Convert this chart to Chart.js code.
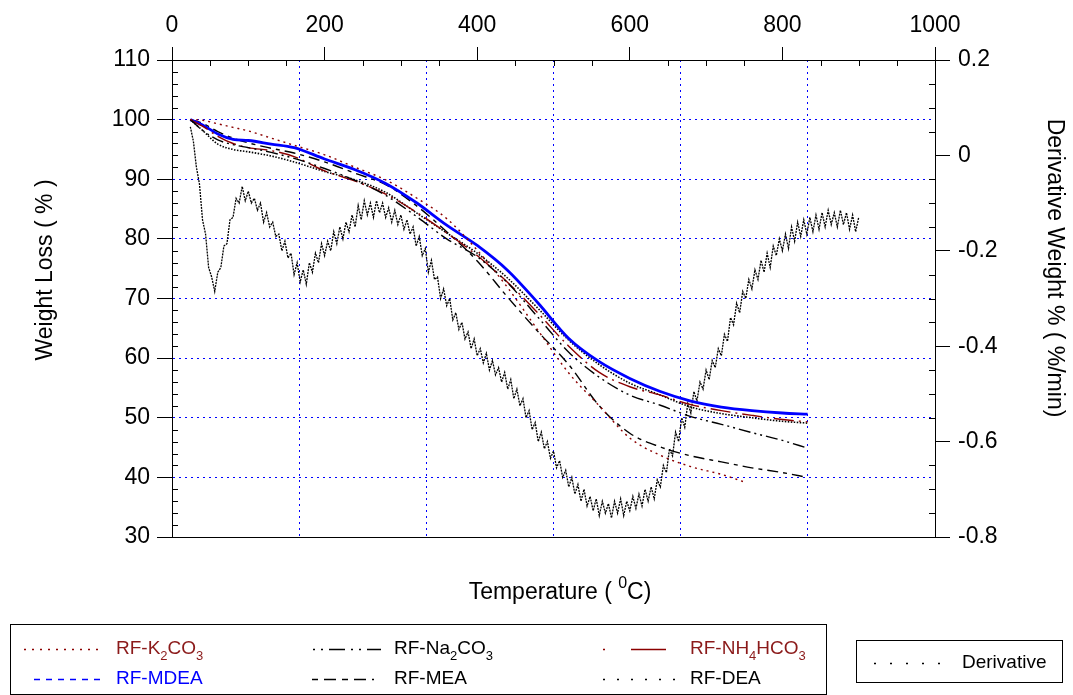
<!DOCTYPE html>
<html>
<head>
<meta charset="utf-8">
<title>TGA</title>
<script src="https://cdn.jsdelivr.net/npm/chart.js@4.4.1/dist/chart.umd.min.js"></script>
<style>
  html, body { margin: 0; padding: 0; background: #fff; }
  #wrap { width: 1073px; height: 695px; }
</style>
</head>
<body>
<div id="wrap"><canvas id="Grafico" width="1073" height="695"></canvas></div>
<script>
// temperaturas (unidades do eixo superior)
const temps = [24, 40, 60, 80, 100, 130, 160, 200, 240, 280, 320, 360, 400, 440, 480, 520, 560, 600, 640, 680, 720, 760, 800, 833];
const tempsK2CO3 = [24, 40, 60, 80, 100, 130, 160, 200, 240, 280, 320, 360, 400, 440, 480, 520, 560, 600, 640, 680, 720, 751];

// perda de massa (%)
const k2co3   = [100, 99.9, 99.3, 98.7, 98.1, 96.9, 95.7, 94.1, 92.0, 89.9, 86.9, 83.4, 78.1, 71.8, 64.6, 57.5, 52.0, 46.6, 43.7, 41.8, 40.5, 39.2];
const na2co3  = [100, 98.2, 96.6, 95.8, 95.3, 94.5, 93.5, 91.8, 89.8, 87.3, 83.8, 80.0, 77.0, 72.6, 66.8, 61.0, 56.8, 53.8, 52.1, 50.2, 48.9, 47.5, 46.2, 44.9];
const nh4hco3 = [100, 98.9, 97.2, 96.0, 95.3, 94.8, 93.8, 91.4, 89.7, 87.5, 84.5, 81.0, 77.2, 72.7, 67.5, 62.0, 57.6, 55.2, 53.8, 52.2, 51.2, 50.4, 49.7, 49.3];
const mdea    = [100, 99.1, 97.6, 96.7, 96.5, 95.9, 95.3, 93.4, 91.6, 89.3, 86.1, 82.3, 78.9, 74.7, 69.2, 63.3, 59.4, 56.6, 54.4, 52.8, 51.8, 51.2, 50.8, 50.6];
const mea     = [100, 99.4, 98.0, 96.9, 96.1, 95.2, 94.4, 92.9, 91.0, 89.1, 85.6, 81.2, 76.3, 70.2, 64.4, 58.9, 52.0, 47.4, 45.1, 43.6, 42.6, 41.6, 40.8, 40.0];
const dea     = [100, 98.2, 95.9, 95.0, 94.6, 93.9, 92.9, 91.3, 89.9, 87.8, 84.4, 81.0, 77.6, 73.4, 68.3, 63.0, 58.9, 55.8, 53.8, 51.8, 50.7, 50.0, 49.4, 49.1];

// derivada (%/min)
const derivT = [24, 28, 32, 36, 40, 44, 48, 52, 56, 60, 64, 68, 72, 76, 80, 84, 88, 92, 96, 100,
    104, 108, 112, 116, 120, 124, 128, 132, 136, 140, 144, 148, 152, 156, 160, 164, 168, 172, 176, 180,
    184, 188, 192, 196, 200, 204, 208, 212, 216, 220, 224, 228, 232, 236, 240, 244, 248, 252, 256, 260,
    264, 268, 272, 276, 280, 284, 288, 292, 296, 300, 304, 308, 312, 316, 320, 324, 328, 332, 336, 340,
    344, 348, 352, 356, 360, 364, 368, 372, 376, 380, 384, 388, 392, 396, 400, 404, 408, 412, 416, 420,
    424, 428, 432, 436, 440, 444, 448, 452, 456, 460, 464, 468, 472, 476, 480, 484, 488, 492, 496, 500,
    504, 508, 512, 516, 520, 524, 528, 532, 536, 540, 544, 548, 552, 556, 560, 564, 568, 572, 576, 580,
    584, 588, 592, 596, 600, 604, 608, 612, 616, 620, 624, 628, 632, 636, 640, 644, 648, 652, 656, 660,
    664, 668, 672, 676, 680, 684, 688, 692, 696, 700, 704, 708, 712, 716, 720, 724, 728, 732, 736, 740,
    744, 748, 752, 756, 760, 764, 768, 772, 776, 780, 784, 788, 792, 796, 800, 804, 808, 812, 816, 820,
    824, 828, 832, 836, 840, 844, 848, 852, 856, 860, 864, 868, 872, 876, 880, 884, 888, 892, 896, 900];
const derivW = [0.06, 0.03, -0.025, -0.06, -0.135, -0.165, -0.235, -0.255, -0.285, -0.245, -0.235, -0.19, -0.185, -0.135, -0.13, -0.09, -0.1, -0.065, -0.095, -0.075,
    -0.1, -0.09, -0.115, -0.1, -0.14, -0.12, -0.15, -0.14, -0.17, -0.165, -0.2, -0.18, -0.215, -0.205, -0.25, -0.225, -0.265, -0.24, -0.27, -0.225,
    -0.245, -0.205, -0.225, -0.185, -0.21, -0.18, -0.2, -0.16, -0.185, -0.15, -0.175, -0.14, -0.16, -0.125, -0.15, -0.105, -0.135, -0.095, -0.125, -0.1,
    -0.13, -0.095, -0.12, -0.1, -0.13, -0.11, -0.14, -0.115, -0.145, -0.125, -0.155, -0.135, -0.165, -0.15, -0.19, -0.17, -0.21, -0.195, -0.245, -0.22,
    -0.26, -0.255, -0.3, -0.28, -0.315, -0.3, -0.345, -0.33, -0.365, -0.35, -0.385, -0.37, -0.405, -0.385, -0.42, -0.405, -0.435, -0.415, -0.45, -0.43,
    -0.46, -0.445, -0.475, -0.455, -0.49, -0.47, -0.51, -0.49, -0.525, -0.51, -0.55, -0.535, -0.575, -0.56, -0.6, -0.58, -0.615, -0.6, -0.635, -0.62,
    -0.655, -0.64, -0.675, -0.66, -0.695, -0.675, -0.71, -0.69, -0.725, -0.7, -0.735, -0.715, -0.745, -0.72, -0.755, -0.725, -0.75, -0.73, -0.76, -0.725,
    -0.75, -0.72, -0.755, -0.725, -0.745, -0.715, -0.74, -0.71, -0.735, -0.7, -0.725, -0.695, -0.72, -0.68, -0.695, -0.65, -0.665, -0.615, -0.63, -0.58,
    -0.6, -0.55, -0.57, -0.52, -0.54, -0.495, -0.515, -0.475, -0.49, -0.45, -0.47, -0.43, -0.445, -0.405, -0.42, -0.375, -0.39, -0.34, -0.355, -0.31,
    -0.33, -0.285, -0.3, -0.26, -0.28, -0.24, -0.26, -0.22, -0.245, -0.205, -0.235, -0.19, -0.21, -0.175, -0.2, -0.165, -0.195, -0.15, -0.18, -0.14,
    -0.17, -0.135, -0.165, -0.13, -0.16, -0.125, -0.155, -0.12, -0.15, -0.115, -0.145, -0.12, -0.15, -0.115, -0.145, -0.12, -0.155, -0.125, -0.16, -0.13];

const FONT = "'Liberation Sans', Arial, sans-serif";
const DARKRED = '#8b0000';
const GRIDBLUE = '#0000ff';

function pts(xs, ys) {
    return xs.map((x, i) => ({ x: x, y: ys[i] }));
}

// itens da legenda (posições na tela)
const legendItems = [
    { ds: 0, parts: [['RF-K', 0], ['2', 1], ['CO', 0], ['3', 1]], x1: 24, x2: 104, tx: 116, y: 649, dash: [2, 6], color: '#8b1a1a' },
    { ds: 1, parts: [['RF-Na', 0], ['2', 1], ['CO', 0], ['3', 1]], x1: 313, x2: 381, tx: 394, y: 649, dash: [2, 6, 2, 6, 16, 6], color: '#000' },
    { ds: 2, parts: [['RF-NH', 0], ['4', 1], ['HCO', 0], ['3', 1]], x1: 603, x2: 666, tx: 690, y: 649, dash: [2, 26, 40, 100], color: '#8b1a1a' },
    { ds: 3, parts: [['RF-MDEA', 0]], x1: 34, x2: 100, tx: 116, y: 679, dash: [6, 6], color: '#0000ff' },
    { ds: 4, parts: [['RF-MEA', 0]], x1: 312, x2: 374, tx: 394, y: 679, dash: [6, 6, 12, 6], color: '#000' },
    { ds: 5, parts: [['RF-DEA', 0]], x1: 603, x2: 680, tx: 690, y: 679, dash: [2, 12], color: '#000' },
    { ds: 6, parts: [['Derivative', 0]], x1: 874, x2: 954, tx: 962, y: 663, dash: [2, 14], color: '#000' }
];

function drawRich(ctx, parts, x, y, size, color) {
    ctx.fillStyle = color;
    ctx.textAlign = 'left';
    ctx.textBaseline = 'middle';
    let cx = x;
    parts.forEach(p => {
        if (p[1] === 1) {
            ctx.font = Math.round(size * 0.68) + 'px ' + FONT;
            ctx.fillText(p[0], cx, y + size * 0.4);
        } else if (p[1] === 2) {
            ctx.font = Math.round(size * 0.68) + 'px ' + FONT;
            ctx.fillText(p[0], cx, y - size * 0.42);
        } else {
            ctx.font = size + 'px ' + FONT;
            ctx.fillText(p[0], cx, y);
        }
        cx += ctx.measureText(p[0]).width;
    });
    return cx - x;
}

function richWidth(ctx, parts, size) {
    let w = 0;
    parts.forEach(p => {
        ctx.font = (p[1] ? Math.round(size * 0.68) : size) + 'px ' + FONT;
        w += ctx.measureText(p[0]).width;
    });
    return w;
}

// marcas menores, títulos dos eixos e legendas
const decoPlugin = {
    id: 'deco',
    afterDraw(chart) {
        const ctx = chart.ctx;
        const { left, right, top, bottom } = chart.chartArea;
        const sx = chart.scales.x2, sy = chart.scales.y, sy2 = chart.scales.y2;
        ctx.save();
        ctx.strokeStyle = '#000';
        ctx.lineWidth = 1;
        ctx.setLineDash([]);
        ctx.beginPath();
        for (let v = 50; v < 1000; v += 50) {
            if (v % 200 === 0) continue;
            const px = Math.round(sx.getPixelForValue(v)) + 0.5;
            ctx.moveTo(px, top); ctx.lineTo(px, top + 6);
        }
        for (let v = 32; v < 110; v += 2) {
            if (v % 10 === 0) continue;
            const py = Math.round(sy.getPixelForValue(v)) + 0.5;
            ctx.moveTo(left, py); ctx.lineTo(left + 6, py);
        }
        for (let i = -15; i < 4; i++) {
            if (i % 4 === 0) continue;
            const py = Math.round(sy2.getPixelForValue(i * 0.05)) + 0.5;
            ctx.moveTo(right, py); ctx.lineTo(right - 6, py);
        }
        ctx.stroke();

        // títulos
        ctx.fillStyle = '#000';
        ctx.textAlign = 'center';
        ctx.textBaseline = 'middle';
        ctx.font = '23px ' + FONT;
        ctx.save();
        ctx.translate(46, 270);
        ctx.rotate(-Math.PI / 2);
        ctx.fillText('Weight Loss ( % )', 0, 0);
        ctx.restore();
        ctx.save();
        ctx.translate(1054, 268);
        ctx.rotate(Math.PI / 2);
        ctx.fillText('Derivative Weight % ( %/min)', 0, 0);
        ctx.restore();
        const tParts = [['Temperature ( ', 0], ['0', 2], ['C)', 0]];
        const tw = richWidth(ctx, tParts, 23);
        drawRich(ctx, tParts, 560 - tw / 2, 593, 23, '#000');

        // caixas da legenda
        ctx.strokeStyle = '#000';
        ctx.lineWidth = 1;
        ctx.strokeRect(10.5, 624.5, 816, 70);
        ctx.strokeRect(856.5, 640.5, 206, 42);
        legendItems.forEach(it => {
            const ds = chart.data.datasets[it.ds];
            ctx.save();
            ctx.strokeStyle = ds.borderColor;
            ctx.lineWidth = 1.3;
            ctx.setLineDash(it.dash);
            ctx.beginPath();
            ctx.moveTo(it.x1, it.y + 0.5);
            ctx.lineTo(it.x2, it.y + 0.5);
            ctx.stroke();
            ctx.restore();
            drawRich(ctx, it.parts, it.tx, it.y, 19, it.color);
        });
        ctx.restore();
    }
};

const ctx = document.getElementById('Grafico').getContext('2d');
Chart.defaults.font.family = FONT;
Chart.defaults.color = '#000';

const lineBase = { fill: false, pointRadius: 0, borderWidth: 1.4, cubicInterpolationMode: 'monotone', xAxisID: 'x', yAxisID: 'y' };

new Chart(ctx, {
    type: 'line',
    data: {
        datasets: [
            Object.assign({}, lineBase, { label: 'RF-K2CO3', data: pts(tempsK2CO3, k2co3), borderColor: DARKRED, borderDash: [2, 4] }),
            Object.assign({}, lineBase, { label: 'RF-Na2CO3', data: pts(temps, na2co3), borderColor: '#000', borderDash: [12, 4, 2, 4, 2, 4] }),
            Object.assign({}, lineBase, { label: 'RF-NH4HCO3', data: pts(temps, nh4hco3), borderColor: DARKRED, borderDash: [20, 5, 2, 5] }),
            Object.assign({}, lineBase, { label: 'RF-MDEA', data: pts(temps, mdea), borderColor: '#0000ff', borderWidth: 2.8 }),
            Object.assign({}, lineBase, { label: 'RF-MEA', data: pts(temps, mea), borderColor: '#000', borderDash: [11, 5, 4, 5] }),
            Object.assign({}, lineBase, { label: 'RF-DEA', data: pts(temps, dea), borderColor: '#000', borderDash: [1.5, 1.5], borderWidth: 1.6 }),
            { label: 'Derivative', data: pts(derivT, derivW), borderColor: '#000', borderWidth: 1.3, borderDash: [2, 1], pointRadius: 0, fill: false, tension: 0, xAxisID: 'x', yAxisID: 'y2' }
        ]
    },
    options: {
        responsive: false,
        animation: false,
        layout: { padding: 0 },
        plugins: { legend: { display: false }, tooltip: { enabled: false } },
        scales: {
            x: {
                type: 'linear', position: 'bottom', min: 0, max: 1000,
                ticks: { display: false, stepSize: 1000 / 6 },
                grid: {
                    drawTicks: false,
                    color: c => (c.index === 0 || c.index === 6) ? 'rgba(0,0,0,0)' : GRIDBLUE
                },
                border: { color: '#000', width: 1, dash: [2, 4] },
                afterFit: s => { s.height = 158; }
            },
            x2: {
                type: 'linear', position: 'top', min: 0, max: 1000,
                ticks: { stepSize: 200, font: { size: 23 }, padding: 8, color: '#000', maxRotation: 0,
                    callback: v => String(v) },
                grid: { drawOnChartArea: false, tickLength: 13, tickColor: '#000' },
                border: { color: '#000', width: 1 },
                afterFit: s => { s.height = 60; }
            },
            y: {
                type: 'linear', position: 'left', min: 30, max: 110,
                ticks: { stepSize: 10, font: { size: 23 }, padding: 7, color: '#000' },
                grid: {
                    tickLength: 15, tickColor: '#000',
                    color: c => (c.index === 0 || c.index === 8) ? 'rgba(0,0,0,0)' : GRIDBLUE
                },
                border: { color: '#000', width: 1, dash: [2, 4] },
                afterFit: s => { s.width = 172; }
            },
            y2: {
                type: 'linear', position: 'right', min: -0.8, max: 0.2,
                ticks: { stepSize: 0.2, font: { size: 23 }, padding: 8, color: '#000',
                    callback: v => String(Math.round(v * 10) / 10) },
                grid: { drawOnChartArea: false, tickLength: 15, tickColor: '#000' },
                border: { color: '#000', width: 1 },
                afterFit: s => { s.width = 138; }
            }
        }
    },
    plugins: [decoPlugin]
});
</script>
</body>
</html>
